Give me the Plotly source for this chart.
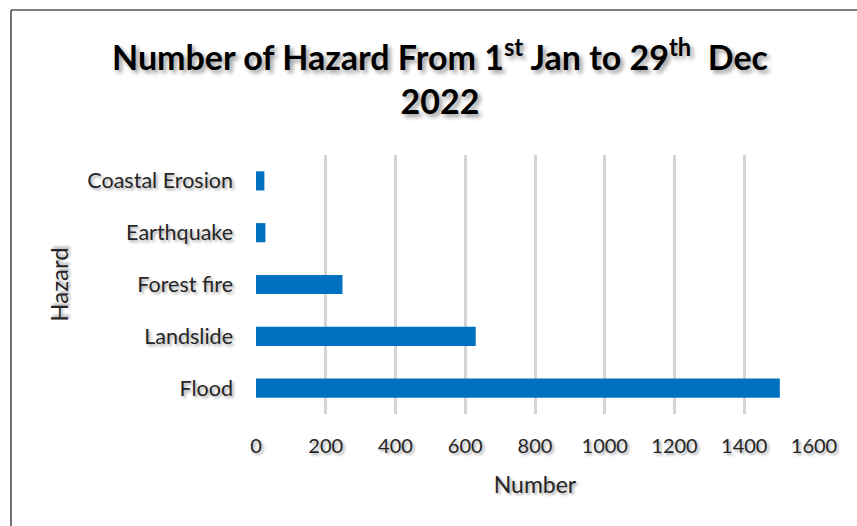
import plotly.graph_objects as go

# Hazard counts, 1 Jan – 29 Dec 2022
hazards = ["Flood", "Landslide", "Forest fire", "Earthquake", "Coastal Erosion"]
counts = [1502, 630, 248, 27, 24]
x_ticks = [0, 200, 400, 600, 800, 1000, 1200, 1400, 1600]

W, H = 857, 526
ML, MR, MT, MB = 256, 43, 155, 112
pw, ph = W - ML - MR, H - MT - MB

def px_x(x):
    return (x - ML) / pw

def px_y(y):
    return (H - MB - y) / ph

shadow = "2px 2px 3px rgba(0,0,0,0.35)"
font_family = "Lato, 'Open Sans', sans-serif"

fig = go.Figure(
    go.Bar(
        y=hazards,
        x=counts,
        orientation="h",
        marker=dict(color="#0070C0", line=dict(width=0)),
        width=0.37,
    )
)

fig.update_layout(
    width=W,
    height=H,
    margin=dict(l=ML, r=MR, t=MT, b=MB),
    paper_bgcolor="white",
    plot_bgcolor="white",
    showlegend=False,
    font=dict(family=font_family, color="#262626", size=20, shadow=shadow),
    title=dict(
        text="Number of Hazard From 1<sup>st</sup> Jan to 29<sup>th</sup>  Dec<br>2022",
        x=px_x(440),
        xref="paper",
        xanchor="center",
        y=1 - 70 / H,
        yanchor="middle",
        font=dict(family=font_family, size=34, color="black", weight="bold",
                  shadow="3px 3px 4px rgba(0,0,0,0.4)"),
    ),
    xaxis=dict(
        range=[0, 1600],
        tickvals=x_ticks,
        tickfont=dict(size=20),
        showgrid=True,
        gridcolor="#d4d4d4",
        gridwidth=2.5,
        zeroline=False,
        showline=False,
        ticks="",
        ticklabelstandoff=18,
        title=dict(text="Number", standoff=20, font=dict(size=23)),
        fixedrange=True,
    ),
    yaxis=dict(
        categoryorder="array",
        categoryarray=hazards,
        tickfont=dict(size=21.5),
        showgrid=False,
        zeroline=False,
        showline=False,
        ticks="",
        ticklabelstandoff=22,
        title=dict(text="Hazard", standoff=11, font=dict(size=24)),
        fixedrange=True,
    ),
    shapes=[
        # outer frame: top and left edges of the chart box
        dict(type="line", xref="paper", yref="paper",
             x0=px_x(11), x1=px_x(W + 5), y0=px_y(10), y1=px_y(10),
             line=dict(color="#7f7f7f", width=2)),
        dict(type="line", xref="paper", yref="paper",
             x0=px_x(11), x1=px_x(11), y0=px_y(10), y1=px_y(H + 5),
             line=dict(color="#404040", width=1.5)),
    ],
)

fig.write_html("out.html")
